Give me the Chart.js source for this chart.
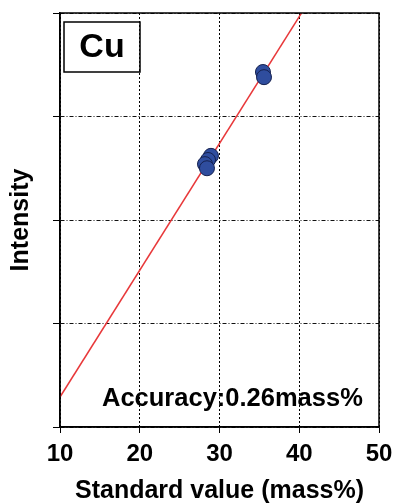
<!DOCTYPE html>
<html>
<head>
<meta charset="utf-8" />
<script src="https://cdn.jsdelivr.net/npm/chart.js@4/dist/chart.umd.min.js"></script>
<style>
 html, body { margin: 0; padding: 0; background: #fff; }
 canvas { display: block; }
</style>
<title>Cu calibration</title>
</head>
<body>
<canvas id="chart" width="397" height="504"></canvas>
<script>
// measured samples (standard value, intensity)
var sampleX = [35.45, 35.58, 28.93, 28.56, 28.18, 28.43];
var sampleY = [3.43, 3.38, 2.62, 2.58, 2.54, 2.50];
// calibration line end points
var fitX = [10, 50];
var fitY = [0.29, 5.19];
var xTicks = [10, 20, 30, 40, 50];
var elementName = 'Cu';
var accuracyText = 'Accuracy:0.26mass%';

var FONT = '"Liberation Sans", Arial, sans-serif';

function toPoints(xs, ys) {
    var pts = [];
    for (var i = 0; i < xs.length; i++) pts.push({x: xs[i], y: ys[i]});
    return pts;
}

// frame + label box + accuracy note
var extras = {
    id: 'extras',
    afterDraw: function(chart) {
        var ctx = chart.ctx;
        var a = chart.chartArea;
        ctx.save();
        ctx.strokeStyle = '#000';
        ctx.lineWidth = 1.5;
        ctx.strokeRect(a.left, a.top, a.right - a.left, a.bottom - a.top);

        ctx.lineWidth = 1.5;
        ctx.strokeRect(a.left + 4, a.top + 9, 76, 50);
        ctx.fillStyle = '#000';
        ctx.font = 'bold 34px ' + FONT;
        ctx.textAlign = 'center';
        ctx.textBaseline = 'middle';
        ctx.fillText(elementName, a.left + 42, a.top + 35);

        ctx.font = 'bold 25.5px ' + FONT;
        ctx.textAlign = 'left';
        ctx.textBaseline = 'alphabetic';
        ctx.fillText(accuracyText, a.left + 42, a.bottom - 21);
        ctx.restore();
    }
};

new Chart(document.getElementById('chart'), {
    type: 'scatter',
    data: {
        datasets: [{
            data: toPoints(sampleX, sampleY),
            pointRadius: 7.5,
            pointBackgroundColor: '#2f4d9e',
            pointBorderColor: '#15214f',
            pointBorderWidth: 1
        }, {
            data: toPoints(fitX, fitY),
            showLine: true,
            pointRadius: 0,
            borderColor: '#e8383a',
            borderWidth: 1.5,
            clip: 0
        }]
    },
    options: {
        responsive: false,
        animation: false,
        layout: { padding: { top: 13, right: 18, left: 0, bottom: 0 } },
        plugins: { legend: { display: false }, tooltip: { enabled: false } },
        scales: {
            x: {
                min: 10, max: 50,
                afterBuildTicks: function(s) { s.ticks = xTicks.map(function(v) { return {value: v}; }); },
                afterFit: function(s) { s.height = 77; },
                grid: { color: '#000', lineWidth: 1, tickLength: 6, tickColor: '#000', tickBorderDash: [] },
                border: { color: '#000', width: 1.5, dash: [2, 2] },
                ticks: { color: '#000', padding: 4, font: { family: FONT, size: 24, weight: 'bold', lineHeight: 1.45 } },
                title: { display: true, text: 'Standard value (mass%)', color: '#000', padding: { top: 0, bottom: 0 },
                         font: { family: FONT, size: 25, weight: 'bold', lineHeight: 1 } }
            },
            y: {
                min: 0, max: 4,
                ticks: { stepSize: 1, callback: function() { return ''; } },
                afterFit: function(s) { s.width = 60; },
                grid: { color: '#111', lineWidth: 1, tickLength: 7, tickColor: '#000', tickBorderDash: [] },
                border: { color: '#000', width: 1.5, dash: [4, 2, 1, 2] },
                title: { display: true, text: 'Intensity', color: '#000', padding: { top: 6, bottom: 0 },
                         font: { family: FONT, size: 25, weight: 'bold' } }
            }
        }
    },
    plugins: [extras]
});
</script>
</body>
</html>
